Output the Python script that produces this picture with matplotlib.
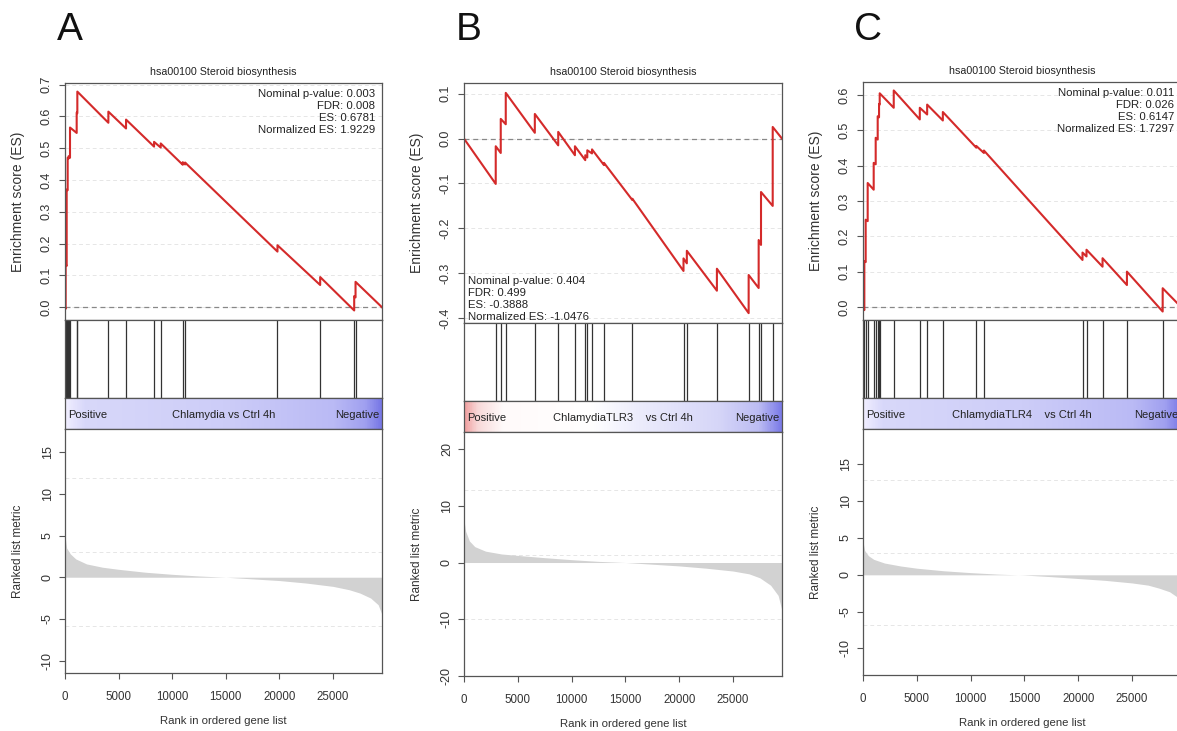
import numpy as np
import matplotlib
matplotlib.use('Agg')
from matplotlib import pyplot as plt
from matplotlib.colors import LinearSegmentedColormap

plt.rcParams['font.family'] = ['Liberation Sans', 'DejaVu Sans']

W, H = 1177, 731
n_genes = 29560
title = 'hsa00100 Steroid biosynthesis'

# ---- panel A : Chlamydia vs Ctrl 4h ----
es_rank_a = [0, 62, 62, 156, 156, 249, 249, 342, 342, 467, 467, 1089, 1089, 1150, 1150,
             4044, 4044, 5692, 5692, 8305, 8305, 8927, 8927, 10980, 10980, 11198, 11198,
             19813, 19813, 23795, 23795, 26967, 26967, 27092, 27092, 29560]
es_a = [0.0, -0.005, 0.135, 0.13, 0.37, 0.368, 0.47, 0.468, 0.475, 0.47, 0.565, 0.548, 0.612, 0.61, 0.678,
        0.58, 0.615, 0.562, 0.59, 0.505, 0.52, 0.502, 0.515, 0.448, 0.456, 0.449, 0.455,
        0.175, 0.195, 0.07, 0.095, -0.01, 0.035, 0.031, 0.08, 0.0]
hits_a = [62, 156, 249, 342, 467, 1089, 1150, 4044, 5692, 8305, 8927, 10980, 11198,
          19813, 23795, 26967, 27092]
stats_a = ['Nominal p-value: 0.003', 'FDR: 0.008', 'ES: 0.6781', 'Normalized ES: 1.9229']

# ---- panel B : ChlamydiaTLR3 vs Ctrl 4h ----
es_rank_b = [0, 2950, 2950, 3416, 3416, 3882, 3882, 6584, 6584, 8758, 8758, 10311, 10311,
             11273, 11273, 11460, 11460, 11900, 11900, 13012, 13012, 15652, 15652,
             20404, 20404, 20714, 20714, 23509, 23509, 26460, 26460, 27391, 27391,
             27609, 27609, 28696, 28696, 29560]
es_b = [0.0, -0.101, -0.017, -0.032, 0.044, 0.032, 0.102, 0.013, 0.055, -0.015, 0.015, -0.037, -0.017,
        -0.048, -0.037, -0.042, -0.026, -0.033, -0.024, -0.059, -0.054, -0.137, -0.134,
        -0.295, -0.267, -0.278, -0.250, -0.339, -0.290, -0.389, -0.304, -0.333, -0.226,
        -0.237, -0.119, -0.150, 0.026, 0.0]
hits_b = [2950, 3416, 3882, 6584, 8758, 10311, 11273, 11460, 11900, 13012, 15652,
          20404, 20714, 23509, 26460, 27391, 27609, 28696]
stats_b = ['Nominal p-value: 0.404', 'FDR: 0.499', 'ES: -0.3888', 'Normalized ES: -1.0476']

# ---- panel C : ChlamydiaTLR4 vs Ctrl 4h ----
es_rank_c = [0, 124, 124, 248, 248, 435, 435, 994, 994, 1180, 1180, 1366, 1366, 1491, 1491,
             1553, 1553, 2857, 2857, 5280, 5280, 5963, 5963, 7422, 7422, 10528, 10528,
             11242, 11242, 20404, 20404, 20776, 20776, 22267, 22267, 24534, 24534,
             27857, 27857, 29560]
es_c = [0.0, -0.009, 0.13, 0.127, 0.247, 0.243, 0.351, 0.332, 0.408, 0.404, 0.479, 0.474, 0.54, 0.537, 0.575,
        0.573, 0.605, 0.564, 0.613, 0.531, 0.564, 0.545, 0.573, 0.528, 0.552, 0.451, 0.456,
        0.436, 0.443, 0.133, 0.154, 0.143, 0.162, 0.114, 0.138, 0.062, 0.10,
        -0.013, 0.053, 0.0]
hits_c = [124, 248, 435, 994, 1180, 1366, 1491, 1553, 2857, 5280, 5963, 7422, 10528,
          11242, 20404, 20776, 22267, 24534, 27857]
stats_c = ['Nominal p-value: 0.011', 'FDR: 0.026', 'ES: 0.6147', 'Normalized ES: 1.7297']

# ranked list metric, read at a few ranks
metric_rank = [0, 155, 500, 1000, 2000, 3500, 5000, 7500, 10000, 12500, 15000, 17500,
               20000, 22500, 25000, 26500, 27500, 28500, 29200, 29560]
metric_a = [5.0, 3.5, 2.8, 2.2, 1.6, 1.2, 0.95, 0.6, 0.35, 0.15, 0.0, -0.2,
            -0.4, -0.7, -1.1, -1.5, -1.9, -2.5, -3.3, -4.5]
metric_b = [7.5, 5.5, 3.8, 2.8, 2.0, 1.5, 1.25, 0.85, 0.5, 0.2, 0.0, -0.3,
            -0.6, -1.0, -1.5, -2.0, -2.7, -4.0, -5.8, -8.5]
metric_c = [4.5, 3.3, 2.6, 2.1, 1.6, 1.2, 0.9, 0.55, 0.3, 0.1, -0.03, -0.25,
            -0.5, -0.75, -1.1, -1.4, -1.8, -2.3, -3.0, -3.4]

x_ticks = [0, 5000, 10000, 15000, 20000, 25000]

spine_col = '#555555'
text_col = '#333333'


def px_axes(fig, x0, x1, y0, y1):
    return fig.add_axes([x0 / W, 1 - y1 / H, (x1 - x0) / W, (y1 - y0) / H])


def style(ax):
    for s in ax.spines.values():
        s.set_color(spine_col)
        s.set_linewidth(0.9)
    ax.tick_params(colors=spine_col, labelcolor=text_col, length=4, width=0.8, labelsize=8)


def panel(fig, letter, x0, x1, ys, es_rank, es, es_lim, es_ticks, hits, stats, stats_left,
          metric, m_lim, m_ticks, m_grid, comparison, bar_colors):
    y_top, y_hit, y_bar, y_rank, y_bot = ys
    wpx = x1 - x0

    fig.text((x0 + 5) / W, 1 - 30 / H, letter, fontsize=28, ha='center', va='center', color='#111111')

    # enrichment score
    ax = px_axes(fig, x0, x1, y_top, y_hit)
    style(ax)
    for t in es_ticks:
        ax.axhline(t, color='#e6e6e6', lw=0.7, ls=(0, (4, 3)), zorder=0)
    ax.axhline(0, color='#888888', lw=0.9, ls=(0, (4, 3)))
    ax.plot(es_rank, es, color='#d42a2a', lw=1.5)
    ax.set_xlim(0, n_genes)
    ax.set_ylim(*es_lim)
    ax.set_xticks([])
    ax.set_yticks(es_ticks)
    ax.set_yticklabels(['%.1f' % t for t in es_ticks], rotation=90, va='center')
    ax.tick_params(axis='y', labelsize=9, pad=5)
    ax.set_ylabel('Enrichment score (ES)', fontsize=10, color=text_col)
    ax.yaxis.set_label_coords(-40 / wpx, 0.5)
    ax.set_title(title, fontsize=7.7, color='#222222', pad=6)
    if stats_left:
        ax.text(4 / wpx, 0.005, '\n'.join(stats), transform=ax.transAxes, ha='left', va='bottom',
                fontsize=8.2, color='#222222', linespacing=1.25)
    else:
        ax.text(1 - 7 / wpx, 0.975, '\n'.join(stats), transform=ax.transAxes, ha='right', va='top',
                fontsize=8.2, color='#222222', linespacing=1.25)

    # hit positions
    ax = px_axes(fig, x0, x1, y_hit, y_bar)
    style(ax)
    ax.vlines(hits, 0, 1, color='#333333', lw=0.9)
    ax.set_xlim(0, n_genes)
    ax.set_ylim(0, 1)
    ax.set_xticks([])
    ax.set_yticks([])

    # colour bar
    ax = px_axes(fig, x0, x1, y_bar, y_rank)
    style(ax)
    cmap = LinearSegmentedColormap.from_list('bar', bar_colors)
    ax.imshow(np.linspace(0, 1, 400)[None, :], aspect='auto', cmap=cmap,
              extent=[0, n_genes, 0, 1])
    ax.set_xlim(0, n_genes)
    ax.set_ylim(0, 1)
    ax.set_xticks([])
    ax.set_yticks([])
    ax.text(3 / wpx, 0.45, 'Positive', transform=ax.transAxes, ha='left', va='center', fontsize=8, color='#222222')
    ax.text(0.5, 0.45, comparison, transform=ax.transAxes, ha='center', va='center', fontsize=8, color='#222222')
    ax.text(1 - 3 / wpx, 0.45, 'Negative', transform=ax.transAxes, ha='right', va='center', fontsize=8, color='#222222')

    # ranked list metric
    ax = px_axes(fig, x0, x1, y_rank, y_bot)
    style(ax)
    for g in m_grid:
        ax.axhline(g, color='#e6e6e6', lw=0.7, ls=(0, (4, 3)), zorder=0)
    ax.fill_between(metric_rank, metric, 0, color='#d2d2d2', lw=0)
    ax.set_xlim(0, n_genes)
    ax.set_ylim(*m_lim)
    ax.set_xticks(x_ticks)
    ax.set_xticklabels([str(t) for t in x_ticks])
    ax.tick_params(axis='x', pad=9, labelsize=8.3)
    ax.set_yticks(m_ticks)
    ax.set_yticklabels([str(t) for t in m_ticks], rotation=90, va='center')
    ax.tick_params(axis='y', labelsize=9, pad=4)
    ax.set_ylabel('Ranked list metric', fontsize=8.5, color=text_col)
    ax.yaxis.set_label_coords(-41 / wpx, 0.5)
    ax.set_xlabel('Rank in ordered gene list', fontsize=8.2, color=text_col, labelpad=9)


fig = plt.figure(figsize=(W / 100, H / 100), dpi=100)

blue_bar = [(0.0, '#f0eeff'), (0.06, '#d8d8fa'), (0.5, '#cdcdf8'), (0.85, '#babaf5'),
            (0.95, '#a0a0f0'), (1.0, '#7878e6')]
red_blue_bar = [(0.0, '#f0a0a0'), (0.04, '#f8d8d8'), (0.12, '#fffafa'), (0.4, '#ffffff'),
                (0.55, '#ececfc'), (0.8, '#d6d6f8'), (0.93, '#bcbcf3'), (1.0, '#7c7ce8')]

panel(fig, 'A', 65, 382, (83, 320, 398, 429, 673), es_rank_a, es_a, (-0.04, 0.705),
      [0.0, 0.1, 0.2, 0.3, 0.4, 0.5, 0.6, 0.7], hits_a, stats_a, False,
      metric_a, (-11.5, 17.8), [-10, -5, 0, 5, 10, 15], [11.9, 3.0, -5.8],
      'Chlamydia vs Ctrl 4h', blue_bar)

panel(fig, 'B', 464, 782, (83, 323, 401, 432, 676), es_rank_b, es_b, (-0.411, 0.124),
      [-0.4, -0.3, -0.2, -0.1, 0.0, 0.1], hits_b, stats_b, True,
      metric_b, (-20, 23), [-20, -10, 0, 10, 20], [12.8, 1.4, -10],
      'ChlamydiaTLR3    vs Ctrl 4h', red_blue_bar)

panel(fig, 'C', 863, 1181, (82, 320, 398, 429, 675), es_rank_c, es_c, (-0.037, 0.637),
      [0.0, 0.1, 0.2, 0.3, 0.4, 0.5, 0.6], hits_c, stats_c, False,
      metric_c, (-13.6, 19.8), [-10, -5, 0, 5, 10, 15], [12.9, 3.0, -6.8],
      'ChlamydiaTLR4    vs Ctrl 4h', blue_bar)

plt.savefig('out.png', dpi=100)
